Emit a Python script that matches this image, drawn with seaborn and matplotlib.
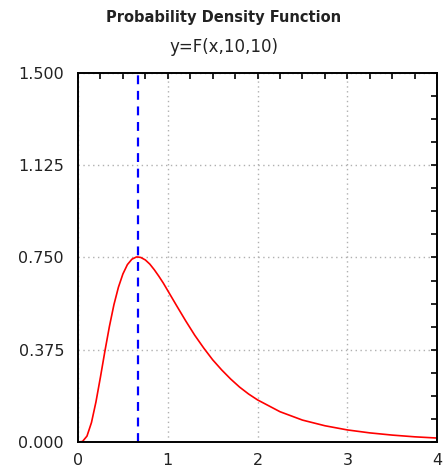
import numpy as np
import pandas as pd
import matplotlib
matplotlib.use("Agg")
import matplotlib.pyplot as plt
import seaborn as sns
from matplotlib.ticker import MultipleLocator, FormatStrFormatter

# values
x_vals = [0.0, 0.05, 0.1, 0.15, 0.2, 0.25, 0.3, 0.35, 0.4, 0.45, 0.5, 0.55,
          0.6, 0.65, 0.667, 0.7, 0.75, 0.8, 0.85, 0.9, 0.95, 1.0, 1.1, 1.2,
          1.3, 1.4, 1.5, 1.6, 1.7, 1.8, 1.9, 2.0, 2.25, 2.5, 2.75, 3.0, 3.25,
          3.5, 3.75, 4.0]
y_vals = [0.0, 0.002, 0.024, 0.079, 0.163, 0.264, 0.370, 0.470, 0.558, 0.629,
          0.683, 0.721, 0.743, 0.752, 0.752, 0.750, 0.740, 0.723, 0.700,
          0.674, 0.646, 0.615, 0.553, 0.492, 0.434, 0.382, 0.334, 0.293,
          0.256, 0.223, 0.195, 0.171, 0.123, 0.089, 0.066, 0.049, 0.037,
          0.028, 0.021, 0.016]
mode_x = 0.667
x_ticks = [0, 1, 2, 3, 4]
y_ticks = [0.0, 0.375, 0.75, 1.125, 1.5]

df = pd.DataFrame({"x": x_vals, "y": y_vals})

sns.set_style("white")
plt.rcParams['font.family'] = ['DejaVu Sans']

fig = plt.figure(figsize=(4.47, 4.70), dpi=100)
ax = fig.add_axes([0.1745, 0.0596, 0.8035, 0.7851])

sns.lineplot(data=df, x="x", y="y", ax=ax, color="red", linewidth=1.2)
ax.axvline(mode_x, color="blue", linestyle=(0, (4, 3)), linewidth=1.6)

ax.set_xlim(0, 4)
ax.set_ylim(0, 1.5)
ax.set_xticks(x_ticks)
ax.set_yticks(y_ticks)
ax.yaxis.set_major_formatter(FormatStrFormatter('%.3f'))
ax.xaxis.set_minor_locator(MultipleLocator(0.25))
ax.yaxis.set_minor_locator(MultipleLocator(0.09375))
ax.tick_params(which="both", direction="in", top=True, right=True,
               length=4, width=1.2, color="black", labelsize=11.5,
               labelcolor="#222222")
ax.tick_params(axis="x", pad=8)
ax.tick_params(axis="y", pad=10)

ax.grid(True, which="major", color="#b0b0b0", linestyle=(0, (1, 2.5)), linewidth=1)
for s in ax.spines.values():
    s.set_color("black")
    s.set_linewidth(1.4)

ax.set_xlabel("")
ax.set_ylabel("")

fig.text(0.5, 0.963, "Probability Density Function", ha="center", va="center",
         fontsize=10.5, fontweight="bold", color="#222222")
fig.text(0.5, 0.900, "y=F(x,10,10)", ha="center", va="center", fontsize=12,
         color="#222222")

fig.savefig("out.png", dpi=100, facecolor="white")
